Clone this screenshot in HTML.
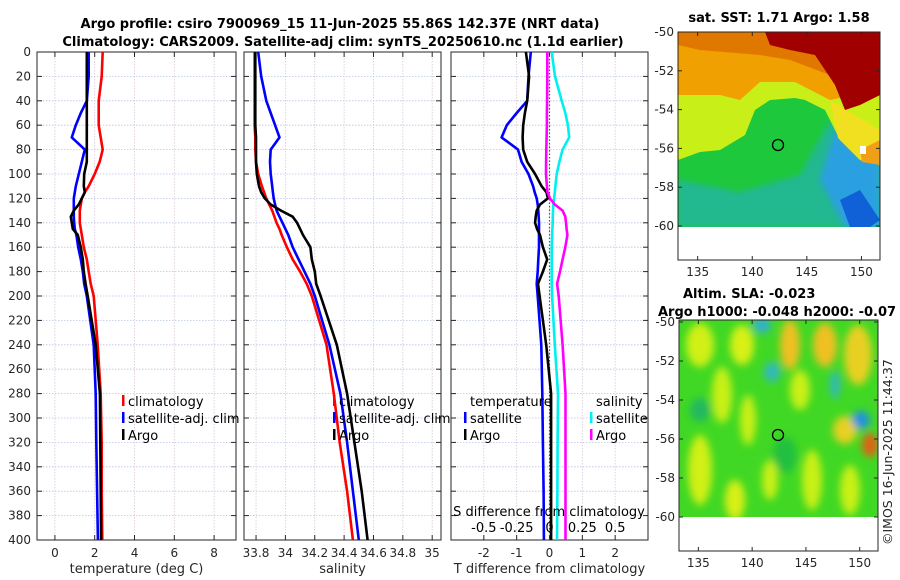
<!DOCTYPE html>
<html><head><meta charset="utf-8">
<style>
body{margin:0;background:#fff;}
svg{display:block;font-family:"DejaVu Sans","Liberation Sans",sans-serif;}
.tk{font-size:12px;fill:#262626;}
.tt{font-size:13px;font-weight:bold;fill:#000;}
.lg{font-size:13px;fill:#000;}
</style></head><body>
<svg id="fig" width="900" height="580" viewBox="0 0 900 580">
<defs>
<filter id="bl" x="-50%" y="-50%" width="200%" height="200%"><feGaussianBlur stdDeviation="4"/></filter>
<filter id="bl2" x="-50%" y="-50%" width="200%" height="200%"><feGaussianBlur stdDeviation="3"/></filter>
<clipPath id="c1"><rect x="678" y="32" width="202" height="195"/></clipPath>
<clipPath id="c2"><rect x="679" y="320" width="199" height="197"/></clipPath>
</defs>
<text class="tt" x="340" y="28" text-anchor="middle">Argo profile: csiro 7900969_15 11-Jun-2025 55.86S 142.37E (NRT data)</text>
<text class="tt" x="343" y="46" text-anchor="middle">Climatology: CARS2009. Satellite-adj clim: synTS_20250610.nc (1.1d earlier)</text>
<g id="plots"></g>

<!-- SST map -->
<g>
<text class="tt" x="779" y="22" text-anchor="middle">sat. SST: 1.71 Argo: 1.58</text>
<g clip-path="url(#c1)">
<rect x="678" y="32" width="202" height="195" fill="#1ec83c"/>
<polygon points="678,180 740,192 800,175 830,120 880,150 880,227 678,227" fill="#20b890" filter="url(#bl2)"/>
<polygon points="820,180 835,130 880,150 880,227 845,227" fill="#2aa0e0" filter="url(#bl2)"/>
<polygon points="840,200 860,190 880,220 870,227 850,227" fill="#1060d8"/>
<polygon points="678,32 880,32 880,165 860,160 840,140 825,110 805,100 795,98 770,100 755,110 745,135 720,150 700,152 678,160" fill="#c8f018"/>
<polygon points="830,100 880,130 880,165 860,160 838,138" fill="#f0e020"/>
<polygon points="860,150 880,140 880,165 862,162" fill="#f0a018"/>
<polygon points="678,32 880,32 880,90 830,100 795,82 760,82 740,100 720,95 678,95" fill="#f0a000"/>
<polygon points="678,32 880,32 880,85 830,75 790,60 760,55 700,50 678,45" fill="#e07800"/>
<polygon points="765,32 880,32 880,95 860,105 845,110 835,85 815,55 790,50 770,45" fill="#a00000"/>
<rect x="860" y="146" width="6" height="8" fill="#fff"/>
</g>
<circle cx="778" cy="145" r="5.5" fill="none" stroke="#000" stroke-width="1.3"/>
<rect x="678" y="32" width="202" height="228" fill="none" stroke="#262626" stroke-width="1"/>
<g id="sstAxes"></g>
</g>

<!-- SLA map -->
<g>
<text class="tt" x="683" y="298">Altim. SLA: -0.023</text>
<text class="tt" x="658" y="316">Argo h1000: -0.048 h2000: -0.07</text>
<g clip-path="url(#c2)">
<rect x="679" y="320" width="199" height="197" fill="#40d824"/>
<g filter="url(#bl)">
<ellipse cx="700" cy="345" rx="14" ry="22" fill="#d0f014"/>
<ellipse cx="722" cy="395" rx="10" ry="28" fill="#c8f014"/>
<ellipse cx="742" cy="345" rx="12" ry="20" fill="#d8f014"/>
<ellipse cx="748" cy="420" rx="8" ry="25" fill="#c8f014"/>
<ellipse cx="790" cy="345" rx="10" ry="25" fill="#f0c020"/>
<ellipse cx="800" cy="390" rx="10" ry="20" fill="#c8f014"/>
<ellipse cx="825" cy="345" rx="12" ry="22" fill="#f0c020"/>
<ellipse cx="858" cy="355" rx="14" ry="30" fill="#e8d020"/>
<ellipse cx="845" cy="430" rx="12" ry="14" fill="#e8d020"/>
<ellipse cx="870" cy="445" rx="8" ry="12" fill="#e06018"/>
<ellipse cx="700" cy="470" rx="12" ry="35" fill="#d0f014"/>
<ellipse cx="735" cy="500" rx="10" ry="20" fill="#d8f014"/>
<ellipse cx="770" cy="480" rx="8" ry="20" fill="#c8f014"/>
<ellipse cx="812" cy="480" rx="10" ry="30" fill="#c8f014"/>
<ellipse cx="850" cy="490" rx="10" ry="25" fill="#c8f014"/>
<ellipse cx="772" cy="372" rx="8" ry="10" fill="#30b8c0"/>
<ellipse cx="762" cy="325" rx="9" ry="8" fill="#30b0d0"/>
<ellipse cx="835" cy="385" rx="5" ry="14" fill="#30b8c0"/>
<ellipse cx="861" cy="420" rx="9" ry="9" fill="#2090e0"/>
<ellipse cx="700" cy="410" rx="10" ry="12" fill="#20b860"/>
<ellipse cx="785" cy="455" rx="12" ry="18" fill="#20c040"/>
</g>
</g>
<circle cx="778" cy="435" r="5.5" fill="none" stroke="#000" stroke-width="1.3"/>
<rect x="679" y="320" width="199" height="231" fill="none" stroke="#262626" stroke-width="1"/>
<g id="slaAxes"></g>
</g>
<text class="tk" x="0" y="0" transform="translate(892,545) rotate(-90)" style="font-size:12.5px">©IMOS 16-Jun-2025 11:44:37</text>
</svg>
<script>
const depth=[0,20,40,50,60,70,80,90,100,110,115,120,125,130,135,140,145,150,160,170,180,190,200,240,280,320,360,400];
const tempClim=[2.4,2.35,2.2,2.2,2.2,2.3,2.4,2.25,2.0,1.7,1.5,1.35,1.3,1.25,1.25,1.25,1.3,1.35,1.45,1.6,1.7,1.8,1.95,2.15,2.3,2.35,2.35,2.38];
const tempSat=[1.7,1.7,1.6,1.3,1.05,0.85,1.5,1.35,1.2,1.05,1.0,0.95,0.95,0.95,0.95,0.97,1.0,1.08,1.17,1.3,1.4,1.47,1.6,1.95,2.05,2.08,2.12,2.16];
const tempArgo=[1.6,1.6,1.6,1.6,1.6,1.6,1.6,1.6,1.47,1.45,1.5,1.35,1.2,0.95,0.8,0.85,0.9,1.15,1.3,1.4,1.45,1.54,1.65,2.05,2.26,2.28,2.3,2.32];
const salClim=[33.79,33.79,33.79,33.79,33.79,33.795,33.795,33.8,33.815,33.84,33.855,33.87,33.89,33.91,33.925,33.94,33.96,33.975,34.01,34.05,34.1,34.145,34.18,34.28,34.33,34.37,34.42,34.46];
const salSat=[33.815,33.835,33.87,33.9,33.93,33.96,33.9,33.895,33.9,33.91,33.915,33.92,33.93,33.94,33.96,33.98,34.0,34.02,34.05,34.09,34.13,34.17,34.2,34.3,34.375,34.42,34.46,34.5];
const salArgo=[33.795,33.795,33.795,33.795,33.795,33.8,33.8,33.8,33.805,33.82,33.835,33.86,33.9,33.97,34.05,34.08,34.1,34.12,34.17,34.18,34.2,34.21,34.24,34.35,34.42,34.47,34.52,34.56];
const tdSat=[-0.57,-0.64,-0.68,-1.0,-1.3,-1.46,-0.96,-0.85,-0.64,-0.5,-0.45,-0.39,-0.36,-0.34,-0.33,-0.32,-0.32,-0.32,-0.32,-0.34,-0.36,-0.39,-0.36,-0.25,-0.22,-0.2,-0.18,-0.17];
const tdArgo=[-0.72,-0.62,-0.68,-0.75,-0.8,-0.82,-0.8,-0.68,-0.44,-0.24,-0.09,-0.05,-0.29,-0.39,-0.42,-0.44,-0.38,-0.29,-0.2,-0.07,-0.2,-0.35,-0.3,-0.1,0.05,0.05,0.05,0.05];
const sdSat=[0.017,0.042,0.093,0.12,0.14,0.15,0.1,0.075,0.055,0.045,0.04,0.035,0.03,0.027,0.025,0.024,0.022,0.02,0.017,0.017,0.017,0.017,0.02,0.04,0.065,0.062,0.06,0.057];
const sdArgo=[-0.017,-0.017,-0.018,-0.02,-0.02,-0.022,-0.024,-0.026,-0.027,-0.02,-0.015,0.004,0.04,0.1,0.12,0.126,0.13,0.136,0.12,0.1,0.08,0.058,0.07,0.1,0.122,0.122,0.122,0.122];
const depthTicks=[0,20,40,60,80,100,120,140,160,180,200,220,240,260,280,300,320,340,360,380,400];
const tempTicks=[0,2,4,6,8];
const salTicks=[33.8,34,34.2,34.4,34.6,34.8,35];
const salTickLabels=["33.8","34","34.2","34.4","34.6","34.8","35"];
const tdTicks=[-2,-1,0,1,2];
const sdTicks=[-0.5,-0.25,0,0.25,0.5];
const latTicks=[-50,-52,-54,-56,-58,-60];
const lonTicks=[135,140,145,150];

const NS='http://www.w3.org/2000/svg';
function mk(tag,attrs,parent,text){const e=document.createElementNS(NS,tag);for(const k in attrs)e.setAttribute(k,attrs[k]);if(text!==undefined)e.textContent=text;parent.appendChild(e);return e;}
const root=document.getElementById('plots');
const Y0=52,Y1=540;
const yS=d=>Y0+(d/400)*(Y1-Y0);
const panels=[
 {x0:37,x1:236,min:-0.9,max:9.1,name:'temperature'},
 {x0:244,x1:441,min:33.718,max:35.06,name:'salinity'},
 {x0:451,x1:648,min:-3,max:3,name:'difference'}];
function xs(p,v){return p.x0+(v-p.min)/(p.max-p.min)*(p.x1-p.x0);}
function frame(p,xt,xl,label){
  const g=mk('g',{},root);
  
  
  depthTicks.forEach(d=>{const l=mk('line',{x1:p.x0,x2:p.x1,y1:yS(d),y2:yS(d),stroke:'#b8c4e8','stroke-width':0.8,'stroke-dasharray':'1.5,1.5'},g);
    
    mk('line',{x1:p.x0,x2:p.x0+5,y1:yS(d),y2:yS(d),stroke:'#262626'},g);mk('line',{x1:p.x1,x2:p.x1-5,y1:yS(d),y2:yS(d),stroke:'#262626'},g);});
  xt.forEach((v,i)=>{const x=xs(p,v);
    const l=mk('line',{x1:x,x2:x,y1:Y0,y2:Y1,stroke:'#d8c4d8','stroke-width':0.8,'stroke-dasharray':'1.5,1.5'},g);
    
    mk('line',{x1:x,x2:x,y1:Y1,y2:Y1-5,stroke:'#262626'},g);mk('line',{x1:x,x2:x,y1:Y0,y2:Y0+5,stroke:'#262626'},g);
    const t=mk('text',{class:'tk',x:x,y:557,'text-anchor':'middle'},g,xl[i]);
    });
  const t=mk('text',{class:'tk',x:(p.x0+p.x1)/2,y:573,'text-anchor':'middle',style:'font-size:13px'},g,label);
  
  mk('rect',{x:p.x0,y:Y0,width:p.x1-p.x0,height:Y1-Y0,fill:'none',stroke:'#262626','stroke-width':1},g);
  return g;
}
function series(p,vals,color,name,g){
  const pts=vals.map((v,i)=>xs(p,v).toFixed(1)+','+yS(depth[i]).toFixed(1)).join(' ');
  const l=mk('polyline',{points:pts,fill:'none',stroke:color,'stroke-width':2.6,'stroke-linejoin':'round'},g);
  
}
function legend(g,x,y,color,label){
  mk('rect',{x:x,y:y-11,width:2.5,height:11,fill:color},g);
  const t=mk('text',{class:'lg',x:x+6,y:y},g,label);
  
}
const p1=panels[0];
const g1=frame(p1,tempTicks,tempTicks.map(String),'temperature (deg C)');
depthTicks.forEach(d=>{const t=mk('text',{class:'tk',x:31,y:yS(d)+4,'text-anchor':'end'},g1,String(d));
 });
series(p1,tempClim,'#ff0000','temp-climatology-line',g1);
series(p1,tempSat,'#0000ff','temp-satellite-line',g1);
series(p1,tempArgo,'#000000','temp-argo-line',g1);
legend(g1,122,406,'#ff0000','climatology');legend(g1,122,423,'#0000ff','satellite-adj. clim');legend(g1,122,440,'#000','Argo');
const p2=panels[1];
const g2=frame(p2,salTicks,salTickLabels,'salinity');
series(p2,salClim,'#ff0000','sal-climatology-line',g2);
series(p2,salSat,'#0000ff','sal-satellite-line',g2);
series(p2,salArgo,'#000000','sal-argo-line',g2);
legend(g2,333,406,'#ff0000','climatology');legend(g2,333,423,'#0000ff','satellite-adj. clim');legend(g2,333,440,'#000','Argo');
const p3=panels[2];
const g3=frame(p3,tdTicks,tdTicks.map(String),'T difference from climatology');
const zl=mk('line',{x1:xs(p3,0),x2:xs(p3,0),y1:Y0,y2:Y1,stroke:'#555','stroke-width':1.2,'stroke-dasharray':'1.5,2'},g3);

const ps={x0:451,x1:648,min:-0.75,max:0.75};
series(p3,tdSat,'#0000ff','tdiff-satellite-line',g3);
series(p3,tdArgo,'#000000','tdiff-argo-line',g3);
series(ps,sdSat,'#00f0f0','sdiff-satellite-line',g3);
series(ps,sdArgo,'#ff00ff','sdiff-argo-line',g3);
sdTicks.forEach(v=>{const t=mk('text',{class:'lg',x:xs(ps,v),y:532,'text-anchor':'middle'},g3,String(v));
 });
{const t=mk('text',{class:'lg',x:549,y:516,'text-anchor':'middle'},g3,'S difference from climatology');
 }
{const t=mk('text',{class:'lg',x:470,y:406},g3,'temperature');}
{const t=mk('text',{class:'lg',x:596,y:406},g3,'salinity');}
legend(g3,464,423,'#0000ff','satellite');legend(g3,464,440,'#000','Argo');
legend(g3,590,423,'#00f0f0','satellite');legend(g3,590,440,'#ff00ff','Argo');
function mapAxes(id,x0,x1,yTop,yBot,latY0,latPx){
  const g=document.getElementById(id);
  const lonX=v=>x0+(v-133.2)/(151.7-133.2)*(x1-x0);
  latTicks.forEach(v=>{const y=latY0+(-50-v)*latPx;
    mk('line',{x1:x0,x2:x0+4,y1:y,y2:y,stroke:'#262626'},g);mk('line',{x1:x1,x2:x1-4,y1:y,y2:y,stroke:'#262626'},g);
    const t=mk('text',{class:'tk',x:x0-4,y:y+4,'text-anchor':'end'},g,String(v));
    });
  lonTicks.forEach(v=>{const x=lonX(v);
    mk('line',{x1:x,x2:x,y1:yBot,y2:yBot-4,stroke:'#262626'},g);mk('line',{x1:x,x2:x,y1:yTop,y2:yTop+4,stroke:'#262626'},g);
    const t=mk('text',{class:'tk',x:x,y:yBot+16,'text-anchor':'middle'},g,String(v));
    });
}
mapAxes('sstAxes',678,880,32,260,32,19.4);
mapAxes('slaAxes',679,878,320,551,322,19.5);
</script>
</body></html>
